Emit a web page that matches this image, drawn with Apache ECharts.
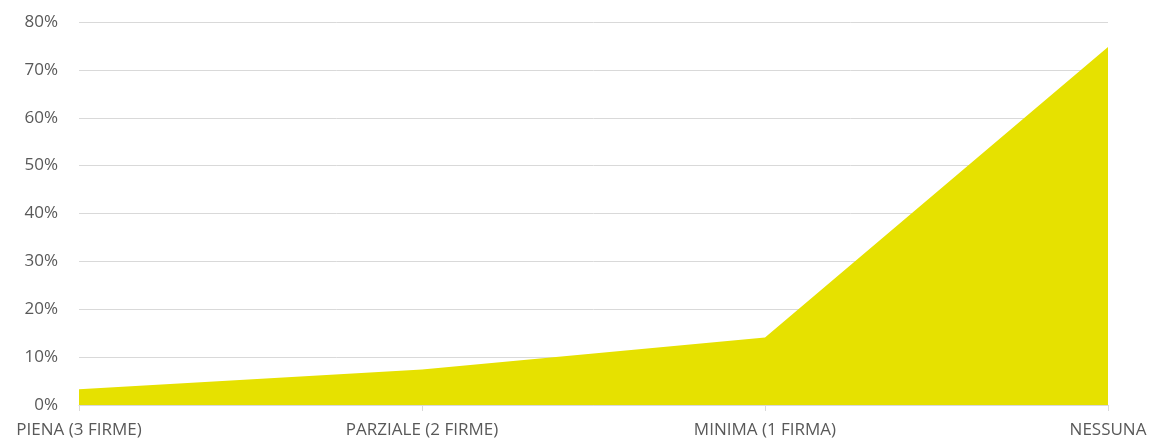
<!doctype html>
<html lang="it">
<head>
    <meta charset="utf-8">
    <title>Firme</title>
    <script src="https://cdn.jsdelivr.net/npm/echarts@6.0.0/dist/echarts.min.js"></script>
    <style>
        html, body { margin: 0; padding: 0; background: #fff; }
        #main { width: 1153px; height: 443px; }
    </style>
</head>
<body>
    <div id="main"></div>
    <script type="text/javascript">
        var categories = ['PIENA (3 FIRME)', 'PARZIALE (2 FIRME)', 'MINIMA (1 FIRMA)', 'NESSUNA'];
        var values = [3.3, 7.4, 14.1, 74.8];
        var yTicks = { min: 0, max: 80, interval: 10 };

        var chart = echarts.init(document.getElementById('main'));
        var labelFont = { color: '#595959', fontSize: 17, fontFamily: 'Open Sans, sans-serif' };

        var option = {
            animation: false,
            grid: { left: 79, right: 45, top: 22, bottom: 38 },
            xAxis: {
                type: 'category',
                data: categories,
                boundaryGap: false,
                axisLine: { lineStyle: { color: '#d9d9d9', width: 1 } },
                axisTick: { show: true, length: 6, alignWithLabel: true, lineStyle: { color: '#d9d9d9' } },
                axisLabel: Object.assign({ margin: 17, interval: 0 }, labelFont),
                splitLine: { show: false }
            },
            yAxis: {
                type: 'value',
                min: yTicks.min,
                max: yTicks.max,
                interval: yTicks.interval,
                axisLine: { show: false },
                axisTick: { show: false },
                axisLabel: Object.assign({ margin: 21, formatter: '{value}%' }, labelFont),
                splitLine: { lineStyle: { color: '#d9d9d9', width: 1 } }
            },
            series: [{
                type: 'line',
                data: values,
                symbol: 'none',
                lineStyle: { width: 0 },
                areaStyle: { color: '#e6e100', opacity: 1 }
            }]
        };

        chart.setOption(option);
    </script>
</body>
</html>
